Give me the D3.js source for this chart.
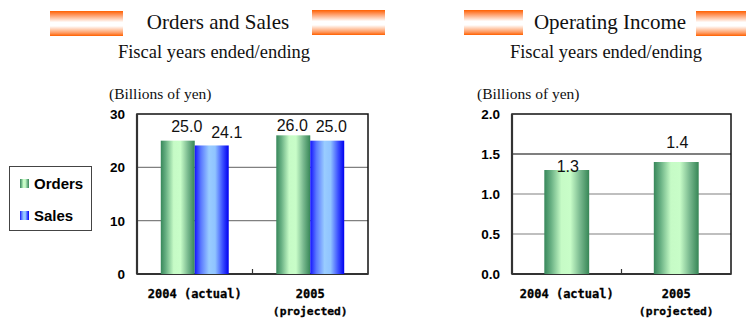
<!DOCTYPE html>
<html>
<head>
<meta charset="utf-8">
<script src="https://cdn.jsdelivr.net/npm/d3@7"></script>
<style>
  body { margin: 0; background: #fff; }
  svg { display: block; }
</style>
</head>
<body>
<div id="chart"></div>
<script>
// data
const categories = ["2004 (actual)", "2005 (projected)"];
const categoryLines = [["2004 (actual)"], ["2005", "(projected)"]];
const seriesNames = ["Orders", "Sales"];
const orders = [25.0, 26.0];
const sales = [24.1, 25.0];
const operatingIncome = [1.3, 1.4];
const leftTicks = [0, 10, 20, 30];
const rightTicks = [0.0, 0.5, 1.0, 1.5, 2.0];
// label nudges as the original placed them (x shift, lift above bar top)
const labelShift = { Orders: [9, -1], Sales: [15, 4] };
const labelLift = { Orders: [9, 4], Sales: [7, 9] };
const incomeLabelLift = [-2, 14];

const W = 746, H = 322;
const svg = d3.select("#chart").append("svg")
    .attr("width", W)
    .attr("height", H);

const defs = svg.append("defs");

// orange header stripes: orange top and bottom, white in the middle
const og = defs.append("linearGradient").attr("id", "orange")
    .attr("x1", 0).attr("y1", 0).attr("x2", 0).attr("y2", 1);
[[0, "#ff6000"], [0.12, "#ff8a4a"], [0.45, "#ffffff"], [0.6, "#ffffff"], [0.88, "#ff9a60"], [1, "#ff6000"]]
    .forEach(s => og.append("stop").attr("offset", s[0]).attr("stop-color", s[1]));

// cylinder-like bar fills
const gg = defs.append("linearGradient").attr("id", "green");
[[0, "#37875a"], [0.15, "#68b083"], [0.38, "#c6fbc6"], [0.58, "#c8fdc8"], [0.8, "#78b88e"], [1, "#368656"]]
    .forEach(s => gg.append("stop").attr("offset", s[0]).attr("stop-color", s[1]));
const bg = defs.append("linearGradient").attr("id", "blue");
[[0, "#1414ff"], [0.18, "#5a78ff"], [0.42, "#99ccff"], [0.6, "#90c4ff"], [0.82, "#3c50ff"], [1, "#0000f0"]]
    .forEach(s => bg.append("stop").attr("offset", s[0]).attr("stop-color", s[1]));

const fills = { Orders: "url(#green)", Sales: "url(#blue)" };

function header(title, cx, stripes) {
    stripes.forEach(s => {
        svg.append("rect")
            .attr("x", s[0]).attr("y", s[1])
            .attr("width", s[2]).attr("height", 25)
            .attr("fill", "url(#orange)");
    });
    svg.append("text")
        .attr("x", cx).attr("y", 29)
        .attr("text-anchor", "middle")
        .style("font-family", "'Liberation Serif', 'Times New Roman', serif")
        .style("font-size", "21px")
        .attr("fill", "#111")
        .text(title);
    svg.append("text")
        .attr("x", cx - 4).attr("y", 58)
        .attr("text-anchor", "middle")
        .style("font-family", "'Liberation Serif', 'Times New Roman', serif")
        .style("font-size", "18.5px")
        .attr("fill", "#111")
        .text("Fiscal years ended/ending");
}

function frame(x0, y, ticks, fmt, blackTicks, unitX) {
    const [l, r] = x0.range();
    const g = svg.append("g");
    // unit label
    svg.append("text")
        .attr("x", unitX).attr("y", 99)
        .style("font-family", "'Liberation Serif', 'Times New Roman', serif")
        .style("font-size", "15.5px")
        .attr("fill", "#111")
        .text("(Billions of yen)");
    // gridlines
    g.selectAll("line.grid")
        .data(ticks.filter(t => t > y.domain()[0] && t < y.domain()[1]))
        .enter()
        .append("line")
        .attr("x1", l).attr("x2", r)
        .attr("y1", d => y(d)).attr("y2", d => y(d))
        .attr("stroke", d => blackTicks.includes(d) ? "#000" : "#808080")
        .attr("stroke-width", 1.2);
    // plot frame
    g.append("rect")
        .attr("x", l).attr("y", y.range()[1])
        .attr("width", r - l).attr("height", y.range()[0] - y.range()[1])
        .attr("fill", "none")
        .attr("stroke", "#111")
        .attr("stroke-width", 1.5);
    // axes
    g.append("line")
        .attr("x1", l).attr("x2", r)
        .attr("y1", y(0)).attr("y2", y(0))
        .attr("stroke", "#333").attr("stroke-width", 2.2);
    g.append("line")
        .attr("x1", l).attr("x2", l)
        .attr("y1", y.range()[1]).attr("y2", y(0))
        .attr("stroke", "#333").attr("stroke-width", 2.2);
    // category divider tick
    const mid = x0(categories[1]);
    g.append("line")
        .attr("x1", mid).attr("x2", mid)
        .attr("y1", y(0)).attr("y2", y(0) - 5)
        .attr("stroke", "#333").attr("stroke-width", 1.2);
    // y tick labels
    g.selectAll("text.ytick")
        .data(ticks)
        .enter()
        .append("text")
        .attr("x", l - 12)
        .attr("y", d => y(d) + 5)
        .attr("text-anchor", "end")
        .style("font-family", "'Liberation Sans', Arial, sans-serif")
        .style("font-weight", "bold")
        .style("font-size", "13.5px")
        .attr("fill", "#000")
        .text(fmt);
    // x category labels
    categories.forEach((c, i) => {
        const cx = x0(c) + x0.bandwidth() / 2;
        categoryLines[i].forEach((line, j) => {
            g.append("text")
                .attr("x", cx)
                .attr("y", 298 + j * 17)
                .attr("text-anchor", "middle")
                .style("font-family", "'DejaVu Sans Mono', monospace")
                .style("font-weight", "bold")
                .style("font-size", j ? "11.3px" : "12px")
                .attr("fill", "#000")
                .attr("stroke", "#000")
                .attr("stroke-width", 0.3)
                .text(line);
        });
    });
}

// ---------- Orders and Sales ----------
header("Orders and Sales", 218, [[50, 11, 73], [312, 10, 73]]);

const xL = d3.scaleBand().domain(categories).range([137, 368]).padding(0);
const xL1 = d3.scaleBand().domain(seriesNames).range([0, xL.bandwidth()])
    .paddingInner(0).paddingOuter(0.7);
const yL = d3.scaleLinear().domain([0, 30]).range([274, 114]);

frame(xL, yL, leftTicks, d => d, [], 109);

const groups = categories.map((c, i) => ({
    cat: c,
    vals: [{ s: "Orders", v: orders[i], i: i }, { s: "Sales", v: sales[i], i: i }]
}));

const gL = svg.selectAll("g.cat")
    .data(groups)
    .enter()
    .append("g")
    .attr("transform", d => `translate(${xL(d.cat)},0)`);

gL.selectAll("rect")
    .data(d => d.vals)
    .enter()
    .append("rect")
    .attr("x", d => xL1(d.s))
    .attr("y", d => yL(d.v))
    .attr("width", xL1.bandwidth())
    .attr("height", d => yL(0) - yL(d.v))
    .attr("fill", d => fills[d.s]);

gL.selectAll("text")
    .data(d => d.vals)
    .enter()
    .append("text")
    .attr("x", d => xL1(d.s) + xL1.bandwidth() / 2 + labelShift[d.s][d.i])
    .attr("y", d => yL(d.v) - labelLift[d.s][d.i])
    .attr("text-anchor", "middle")
    .style("font-family", "'Liberation Sans', Arial, sans-serif")
    .style("font-size", "16px")
    .attr("fill", "#111")
    .text(d => d.v.toFixed(1));

// legend
const legend = svg.append("g");
legend.append("rect")
    .attr("x", 9.5).attr("y", 166.5)
    .attr("width", 82).attr("height", 64)
    .attr("fill", "#fff")
    .attr("stroke", "#444")
    .attr("stroke-width", 1);
legend.selectAll("rect.sw")
    .data(seriesNames)
    .enter()
    .append("rect")
    .attr("x", 20)
    .attr("y", (d, i) => 179 + i * 32)
    .attr("width", 9).attr("height", 9)
    .attr("fill", d => fills[d]);
legend.selectAll("text")
    .data(seriesNames)
    .enter()
    .append("text")
    .attr("x", 34)
    .attr("y", (d, i) => 189 + i * 32)
    .style("font-family", "'Liberation Sans', Arial, sans-serif")
    .style("font-weight", "bold")
    .style("font-size", "15px")
    .attr("fill", "#000")
    .text(d => d);

// ---------- Operating Income ----------
header("Operating Income", 610, [[464, 10, 59], [696, 11, 50]]);

const xR = d3.scaleBand().domain(categories).range([512, 731]).padding(0);
const xR1 = d3.scaleBand().domain(["Operating Income"]).range([0, xR.bandwidth()])
    .paddingInner(0).paddingOuter(0.72);
const yR = d3.scaleLinear().domain([0, 2]).range([274, 114]);

frame(xR, yR, rightTicks, d => d.toFixed(1), [1.5], 477);

const gR = svg.selectAll("g.inc")
    .data(operatingIncome)
    .enter()
    .append("g")
    .attr("transform", (d, i) => `translate(${xR(categories[i])},0)`);

gR.append("rect")
    .attr("x", xR1("Operating Income"))
    .attr("y", d => yR(d))
    .attr("width", xR1.bandwidth())
    .attr("height", d => yR(0) - yR(d))
    .attr("fill", "url(#green)");

gR.append("text")
    .attr("x", xR1("Operating Income") + xR1.bandwidth() / 2 + 1)
    .attr("y", (d, i) => yR(d) - incomeLabelLift[i])
    .attr("text-anchor", "middle")
    .style("font-family", "'Liberation Sans', Arial, sans-serif")
    .style("font-size", "16px")
    .attr("fill", "#111")
    .text(d => d.toFixed(1));
</script>
</body>
</html>
